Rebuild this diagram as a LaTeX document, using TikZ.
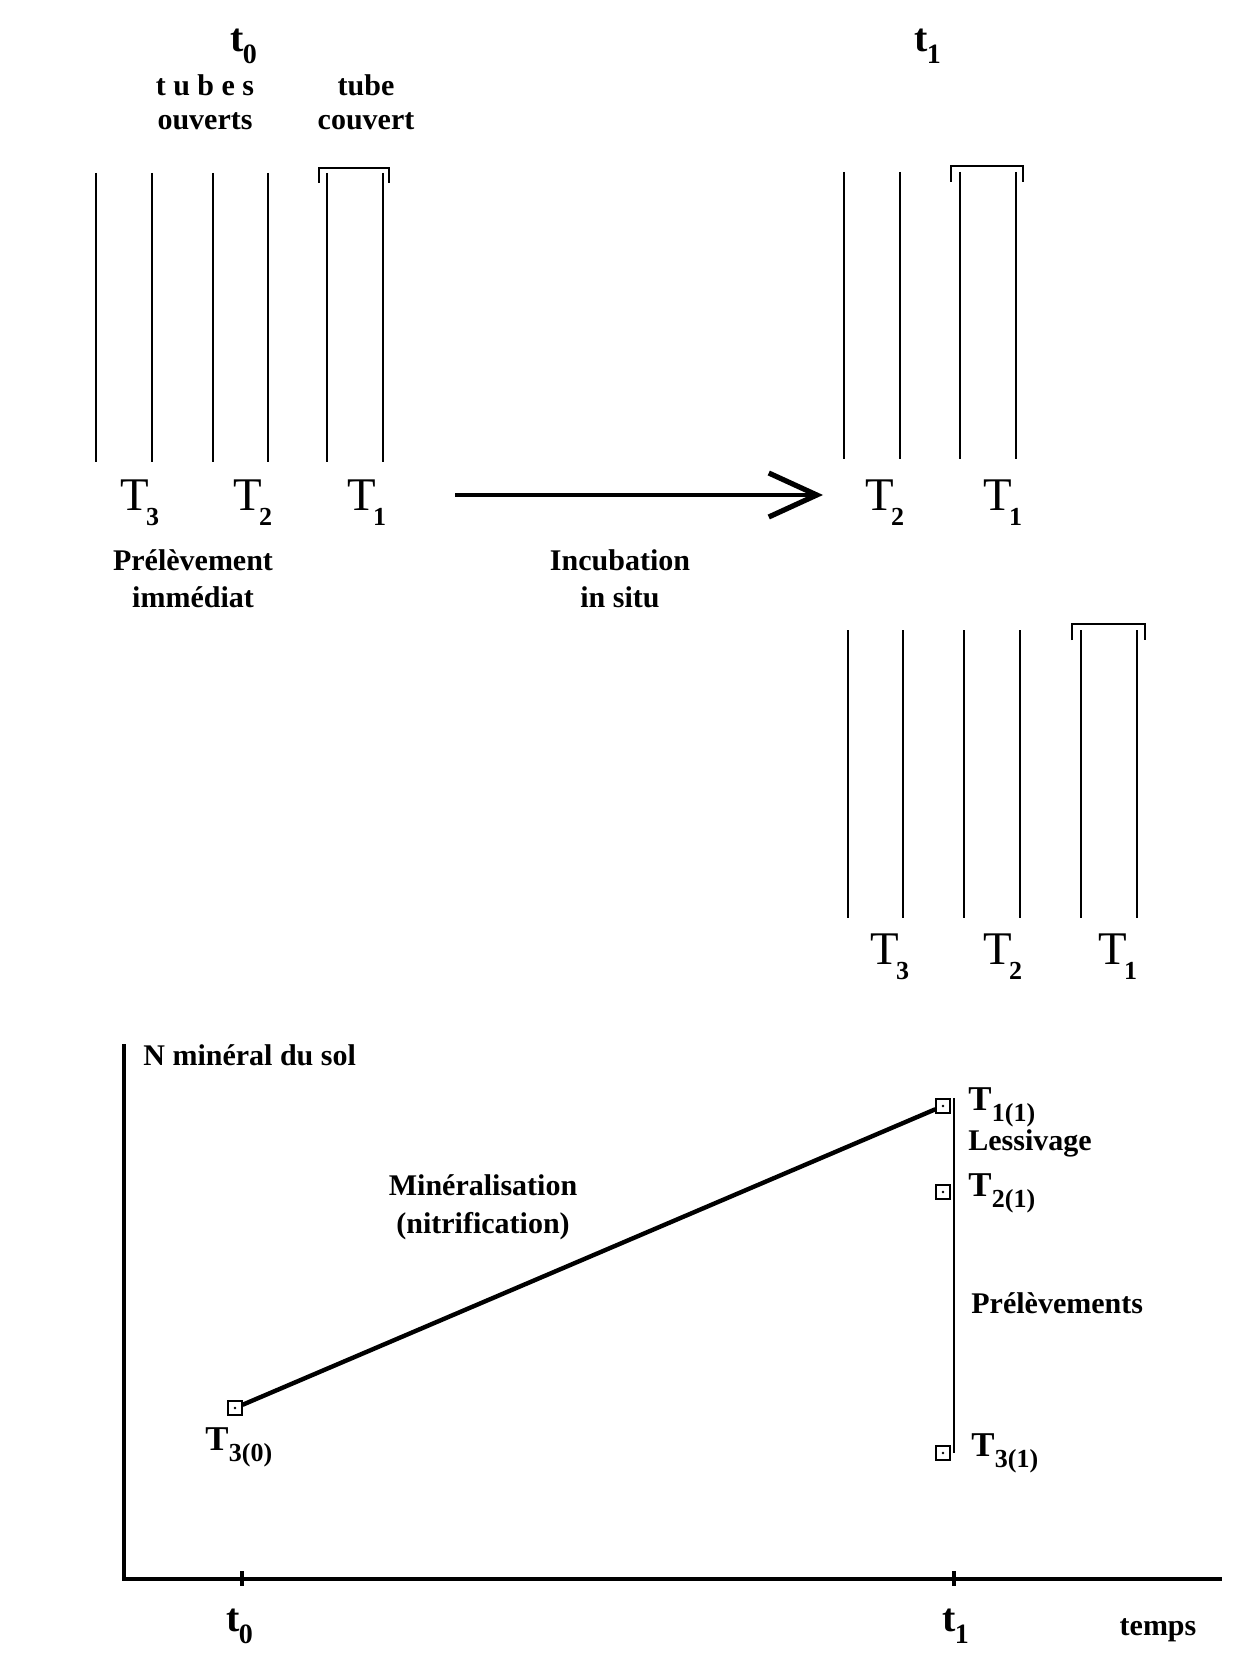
\documentclass[tikz,border=0pt]{standalone}
\usepackage{fontspec}
\setmainfont{Liberation Serif}
\usetikzlibrary{positioning,arrows.meta}

% etiquettes T avec indice
\newcommand\Tbig[1]{T\kern-0.06em\raisebox{-7.5pt}{\fontsize{13}{13}\selectfont\bfseries #1}}
\newcommand\Tgr[1]{\bfseries T\kern0.01em\raisebox{-5.5pt}{\fontsize{13}{13}\selectfont\bfseries #1}}
\newcommand\tlab[1]{\bfseries t\kern-0.02em\raisebox{-6pt}{\fontsize{14}{14}\selectfont\bfseries #1}}

\tikzset{
  tube/.style={line width=1.1pt},
  lab/.style={font=\fontsize{15}{17}\selectfont\bfseries, inner sep=0pt, anchor=base},
  bigT/.style={font=\fontsize{23.4}{26}\selectfont, inner sep=0pt, anchor=base west},
  grT/.style={font=\fontsize{17.4}{20}\selectfont, inner sep=0pt, anchor=base west},
  tT/.style={font=\fontsize{20}{24}\selectfont, inner sep=0pt, anchor=base west},
  point/.style={draw, rectangle, minimum size=7pt, inner sep=0pt, line width=0.6pt,
    path picture={\fill (path picture bounding box.center) circle (0.7pt);}},
  axis/.style={line width=1.6pt},
}

\begin{document}
\begin{tikzpicture}[x=0.5pt,y=-0.5pt]
  \useasboundingbox (0,0) rectangle (1239,1653);

  % tubes a t0
  \foreach \x in {96,152,213,268,327,383}
    \draw[tube] (\x,173) -- (\x,462);
  \draw[tube] (319,183) -- (319,168) -- (389,168) -- (389,183);
  \node[tT] (t0h) at (230,52) {\tlab{0}};
  \node[lab] (tub) at (205,96) {t u b e s};
  \node[lab, below=17pt of tub.base, anchor=base] (ouv) {ouverts};
  \node[lab] (tub1) at (366,96) {tube};
  \node[lab, below=17pt of tub1.base, anchor=base] (couv) {couvert};
  \node[bigT] (T3a) at (120,510) {\Tbig{3}};
  \node[bigT] (T2a) at (233,510) {\Tbig{2}};
  \node[bigT] (T1a) at (347,510) {\Tbig{1}};
  \node[lab] (prel) at (193,570) {Prélèvement};
  \node[lab, below=18.5pt of prel.base, anchor=base] (imm) {immédiat};

  % incubation
  \coordinate (inc0) at (455,495);
  \coordinate (inc1) at (823,495);
  \draw[line width=1.6pt, -{Straight Barb[length=24pt,width=22pt,line width=2.6pt]}] (inc0) -- (inc1);
  \node[lab] (incub) at (620,570) {Incubation};
  \node[lab, below=18.5pt of incub.base, anchor=base] (situ) {in situ};

  % tubes a t1
  \foreach \x in {844,900,960,1016}
    \draw[tube] (\x,172) -- (\x,459);
  \draw[tube] (951,182) -- (951,166) -- (1023,166) -- (1023,182);
  \node[tT] (t1h) at (914,52) {\tlab{1}};
  \node[bigT] (T2b) at (865,510) {\Tbig{2}};
  \node[bigT] (T1b) at (983,510) {\Tbig{1}};

  \foreach \x in {848,903,964,1020,1081,1137}
    \draw[tube] (\x,630) -- (\x,918);
  \draw[tube] (1072,640) -- (1072,624) -- (1145,624) -- (1145,640);
  \node[bigT] (T3c) at (870,964) {\Tbig{3}};
  \node[bigT] (T2c) at (983,964) {\Tbig{2}};
  \node[bigT] (T1c) at (1098,964) {\Tbig{1}};

  % graphe
  \coordinate (ytop) at (124,1044);
  \coordinate (orig) at (124,1579);
  \coordinate (xend) at (1222,1579);
  \draw[axis] (ytop) -- (orig) -- (xend);
  \draw[axis] (242,1571) -- (242,1586);
  \draw[axis] (954,1571) -- (954,1586);
  \node[lab, anchor=base west] (nmin) at (143,1065) {N minéral du sol};
  \node[tT] (t0b) at (226,1631) {\tlab{0}};
  \node[tT] (t1b) at (942,1631) {\tlab{1}};
  \node[lab] (temps) at (1158,1635) {temps};

  \node[point] (p30) at (235,1408) {};
  \node[point] (p11) at (943,1106) {};
  \node[point] (p21) at (943,1192) {};
  \node[point] (p31) at (943,1453) {};
  \draw[line width=2.2pt] (p30) -- (p11);
  \draw[line width=1.1pt] ([xshift=1.5pt]p11.north east) -- ([xshift=1.5pt]p31.east);

  \node[lab] (miner) at (483,1195) {Minéralisation};
  \node[lab, below=19pt of miner.base, anchor=base] (nitr) {(nitrification)};
  \node[grT] (l30) at (205,1450) {\Tgr{3(0)}};
  \node[grT] (l11) at (968,1110) {\Tgr{1(1)}};
  \node[lab, anchor=base west] (less) at (968,1150) {Lessivage};
  \node[grT] (l21) at (968,1196) {\Tgr{2(1)}};
  \node[lab, anchor=base west] (prels) at (971,1313) {Prélèvements};
  \node[grT] (l31) at (971,1456) {\Tgr{3(1)}};
\end{tikzpicture}
\end{document}
